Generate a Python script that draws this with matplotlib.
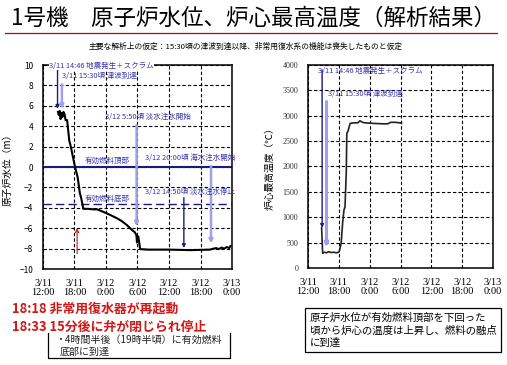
import matplotlib
matplotlib.use("Agg")
import matplotlib.pyplot as plt
from matplotlib.lines import Line2D

plt.rcParams['font.family'] = ['Noto Sans CJK JP', 'DejaVu Sans']

# hours after 3/11 12:00
hours_wl = [2.85, 3.0, 3.2, 3.35, 3.5, 3.7, 3.9, 4.1, 4.3, 4.6, 4.8, 5.0, 5.3, 5.7, 6.1,
            6.6, 7.0, 7.3, 7.6, 7.7, 8.5, 9.5, 10.3, 11.5, 12.8, 14.0, 15.0, 16.0, 17.0,
            17.5, 17.8, 17.9, 18.05, 18.15, 18.5, 20, 24, 28, 31.8, 32.5, 33.0, 33.5,
            34.0, 34.5, 35.0, 35.5, 35.7]
water_level = [5.4, 5.1, 5.5, 4.7, 5.3, 4.9, 5.4, 5.2, 4.6, 4.6, 3.6, 2.6, 2.0, 1.0, 0.0,
               -1.0, -2.5, -3.1, -3.9, -4.1, -4.1, -4.15, -4.15, -4.4, -4.7, -5.0, -5.3,
               -5.7, -6.2, -6.4, -6.7, -7.4, -6.9, -6.8, -8.05, -8.1, -8.1, -8.15, -8.1,
               -8.0, -7.95, -8.05, -7.9, -8.0, -7.85, -7.95, -7.75]

hours_temp = [2.65, 2.85, 3.2, 3.6, 4.0, 4.5, 5.0, 5.5, 6.0, 6.25, 6.45, 6.75, 7.0, 7.2,
              7.45, 7.55, 7.8, 8.2, 9.0, 9.7, 10.1, 10.6, 11.1, 12.5, 14.6, 15.5, 16.1,
              17.0, 17.9, 18.2]
core_temp = [790, 290, 310, 300, 320, 305, 310, 300, 310, 390, 490, 900, 1140, 1200, 1900,
             2650, 2700, 2850, 2860, 2860, 2900, 2870, 2860, 2850, 2840, 2840, 2870, 2870,
             2860, 2850]

tick_hours = [0, 6, 12, 18, 24, 30, 36]
tick_labels = ['3/11\n12:00', '3/11\n18:00', '3/12\n0:00', '3/12\n6:00',
               '3/12\n12:00', '3/12\n18:00', '3/13\n0:00']

fuel_top = 0.0
fuel_bottom = -3.6

NAVY = '#1a1a80'
LIGHT = '#a0a0e8'
TXT = '#3535b0'
RED = '#d01818'

fig = plt.figure(figsize=(5.07, 3.65), dpi=100)

fig.text(0.5, 0.951, '1号機　原子炉水位、炉心最高温度（解析結果）', ha='center', va='center',
         fontsize=16.2)
fig.add_artist(Line2D([0.01, 0.98], [0.909, 0.909], color='#a01010', lw=0.9))
fig.text(0.485, 0.871, '主要な解析上の仮定：15:30頃の津波到達以降、非常用復水系の機能は喪失したものと仮定',
         ha='center', va='center', fontsize=5.6)

ax1 = fig.add_axes([0.0848, 0.263, 0.3728, 0.5589])
ax2 = fig.add_axes([0.6075, 0.2658, 0.3649, 0.5562])


def style(ax):
    ax.set_xlim(0, 36)
    ax.set_xticks(tick_hours)
    ax.set_xticklabels(tick_labels, fontfamily='Liberation Serif', fontsize=7.5,
                       linespacing=1.1)
    ax.tick_params(length=0, pad=7)
    ax.grid(True, color='black', ls=(0, (3, 2)), lw=0.8)
    ax.set_axisbelow(True)
    for s in ax.spines.values():
        s.set_linewidth(1.1)


def arrow(ax, x, y0, y1, color, lw):
    ax.annotate('', xy=(x, y1), xytext=(x, y0),
                arrowprops=dict(arrowstyle='-|>', color=color, lw=lw, mutation_scale=5,
                                shrinkA=0, shrinkB=0))


# left: reactor water level
style(ax1)
ax1.set_ylim(-10, 10)
ax1.set_yticks(range(-10, 11, 2))
ax1.tick_params(axis='y', labelsize=6)
ax1.set_ylabel('原子炉水位（m）', fontsize=7, labelpad=5)
ax1.axhline(fuel_top, color=NAVY, lw=1.5)
ax1.axhline(fuel_bottom, color=NAVY, lw=1.0, ls=(0, (6, 3)))
ax1.plot(hours_wl, water_level, color='black', lw=1.5)

arrow(ax1, 2.77, 9.5, 5.7, NAVY, 1.0)
arrow(ax1, 3.6, 8.1, 5.7, LIGHT, 1.8)
arrow(ax1, 17.83, 4.1, -5.8, LIGHT, 1.8)
arrow(ax1, 32.0, 0.1, -7.5, LIGHT, 1.8)
arrow(ax1, 26.83, -3.0, -7.95, NAVY, 1.0)
ax1.annotate('', xy=(6.5, -6.0), xytext=(6.5, -8.5),
             arrowprops=dict(arrowstyle='->', color=RED, lw=0.8, mutation_scale=6,
                             shrinkA=0, shrinkB=0))

bg = dict(facecolor='white', edgecolor='none', pad=0.3)
ax1.text(1.2, 9.9, '3/11 14:46 地震発生＋スクラム', color=TXT, fontsize=5.4, va='center',
         bbox=bg, clip_on=False, zorder=5)
ax1.text(3.6, 8.9, '3/11 15:30頃 津波到達', color=TXT, fontsize=5.4, va='center', zorder=5)
ax1.text(11.8, 4.9, '3/12 5:50頃 淡水注水開始', color=TXT, fontsize=5.4, va='center', zorder=5)
ax1.text(8.0, 0.55, '有効燃料頂部', color=TXT, fontsize=5.4, va='center', zorder=5)
ax1.text(19.4, 0.9, '3/12 20:00頃 海水注水開始', color=TXT, fontsize=5.4, va='center', zorder=5)
ax1.text(8.0, -3.1, '有効燃料底部', color=TXT, fontsize=5.4, va='center', zorder=5)
ax1.text(19.4, -2.45, '3/12 14:50頃 淡水注水停止', color=TXT, fontsize=5.4, va='center', zorder=5)

# right: core maximum temperature
style(ax2)
ax2.set_ylim(0, 4000)
ax2.set_yticks(range(0, 4001, 500))
ax2.tick_params(axis='y', labelsize=5.8, labelcolor='#333333')
for t in ax2.get_yticklabels():
    t.set_fontfamily('Liberation Serif')
ax2.set_ylabel('炉心最高温度（℃）', fontsize=7, labelpad=6)
ax2.plot(hours_temp, core_temp, color='#222222', lw=1.2)
arrow(ax2, 2.75, 3900, 790, NAVY, 1.0)
arrow(ax2, 3.6, 3280, 410, LIGHT, 2.2)
ax2.text(1.95, 3880, '3/11 14:46 地震発生＋スクラム', color=TXT, fontsize=5.4, va='center', zorder=5)
ax2.text(3.9, 3430, '3/11 15:30頃 津波到達', color=TXT, fontsize=5.4, va='center', zorder=5)

# bottom notes
fig.text(0.024, 1 - 309 / 365, '18:18 非常用復水器が再起動', color=RED, fontsize=9.3,
         fontweight='bold', va='center')
fig.text(0.024, 1 - 327 / 365, '18:33 15分後に弁が閉じられ停止', color=RED, fontsize=9.3,
         fontweight='bold', va='center')
bx0, bx1, by0, by1 = 48 / 507, 230 / 507, 1 - 358 / 365, 1 - 333 / 365
fig.add_artist(Line2D([bx0, bx0, bx1, bx1], [by1, by0, by0, by1], color='black', lw=0.9))
fig.text(0.108, 1 - 340 / 365, '・4時間半後（19時半頃）に有効燃料', fontsize=7.2, va='center',
         color='#222222')
fig.text(0.118, 1 - 352 / 365, '底部に到達', fontsize=7.2, va='center', color='#222222')

fig.text(310 / 507, 1 - 330 / 365,
         '原子炉水位が有効燃料頂部を下回った\n頃から炉心の温度は上昇し、燃料の融点\nに到達',
         fontsize=7.5, va='center', linespacing=1.25,
         bbox=dict(facecolor='white', edgecolor='black', lw=0.9, boxstyle='square,pad=0.45'))

fig.savefig('out.png', dpi=100)
